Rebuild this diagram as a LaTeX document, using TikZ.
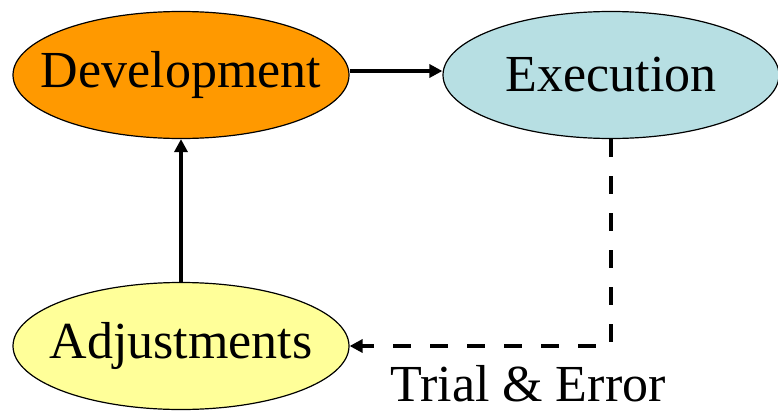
\documentclass[tikz,border=0pt]{standalone}
\usepackage{fontspec}
\setmainfont{Liberation Serif}
\newfontfamily\diagfont{Liberation Serif}
\usetikzlibrary{shapes.geometric,arrows.meta}
\definecolor{devorange}{RGB}{255,153,0}
\definecolor{execblue}{RGB}{183,223,227}
\definecolor{adjyellow}{RGB}{255,255,153}

\tikzset{
  bigtext/.style={font=\diagfont\fontsize{52}{60}\selectfont},
  phase/.style={ellipse,draw=black,line width=1.2pt,minimum width=336pt,minimum height=127pt,inner xsep=-40pt,inner ysep=0pt,bigtext},
  flow/.style={line width=3.5pt,-{Triangle[length=13pt,width=13pt]}},
}

\begin{document}
\begin{tikzpicture}[x=1pt,y=-1pt]
  \useasboundingbox (0,0) rectangle (778,412);

  % Phases.
  \node[phase,fill=devorange] (dev) at (181,75) {Development};
  \node[phase,fill=execblue] (exec) at (611,75) {Execution};
  \node[phase,fill=adjyellow] (adj) at (181,346) {Adjustments};

  % Main cycle.
  \draw[flow] ([yshift=4pt]dev.east) -- ([yshift=4pt]exec.west);
  \draw[flow] (adj) -- (dev);

  % Feedback loop.
  \draw[flow,dash pattern=on 18pt off 19pt] (exec.south) |- (adj.east);
  \node[bigtext,anchor=base,inner sep=0pt] (trial) at (528,401) {Trial \& Error};

\end{tikzpicture}
\end{document}
